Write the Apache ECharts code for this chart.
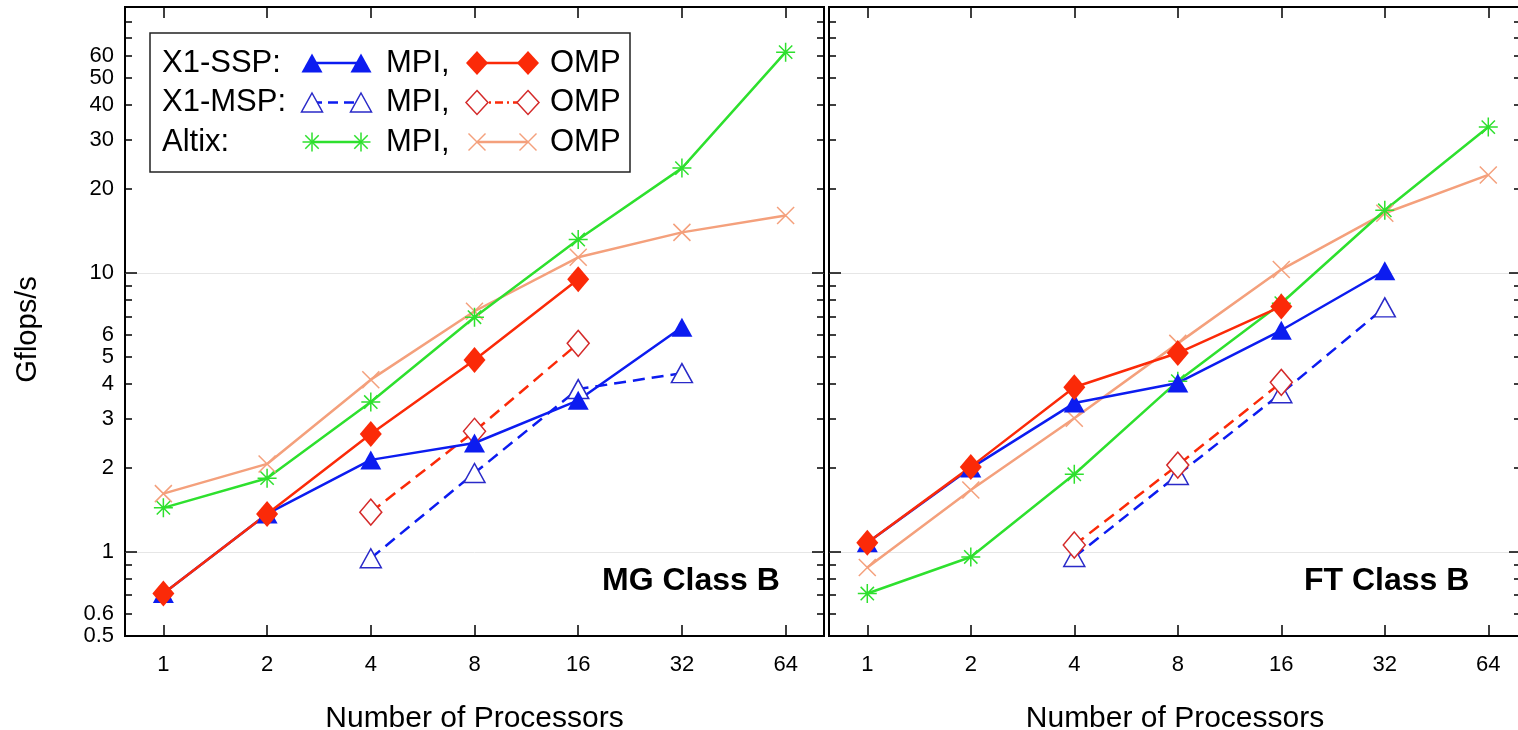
<!DOCTYPE html>
<html>
<head>
<meta charset="utf-8">
<script src="https://cdn.jsdelivr.net/npm/echarts@6/dist/echarts.min.js"></script>
<style>
html,body{margin:0;padding:0;background:#fff;}
#chart{width:1518px;height:730px;}
</style>
</head>
<body>
<div id="chart"></div>
<script>
// ---- data ----
const procs = ['1', '2', '4', '8', '16', '32', '64'];
const yLabelValues = [0.5, 0.6, 1, 2, 3, 4, 5, 6, 10, 20, 30, 40, 50, 60];
const yMinorTicks = [0.6, 0.7, 0.8, 0.9, 2, 3, 4, 5, 6, 7, 8, 9, 20, 30, 40, 50, 60, 70, 80];
const yMajorTicks = [1, 10];

// MG Class B
const mgSspMpi   = [0.71, 1.37, 2.14, 2.46, 3.5, 6.4, null];
const mgSspOmp   = [0.71, 1.37, 2.65, 4.88, 9.5, null, null];
const mgMspMpi   = [null, null, 0.95, 1.92, 3.84, 4.38, null];
const mgMspOmp   = [null, null, 1.39, 2.71, 5.6, null, null];
const mgAltixMpi = [1.44, 1.84, 3.45, 6.95, 13.2, 23.8, 62];
const mgAltixOmp = [1.62, 2.07, 4.15, 7.3, 11.4, 14.0, 16.1];

// FT Class B
const ftSspMpi   = [1.08, 2.0, 3.42, 4.04, 6.24, 10.2, null];
const ftSspOmp   = [1.08, 2.02, 3.9, 5.17, 7.6, null, null];
const ftMspMpi   = [null, null, 0.96, 1.89, 3.71, 7.54, null];
const ftMspOmp   = [null, null, 1.06, 2.05, 4.06, null, null];
const ftAltixMpi = [0.71, 0.96, 1.9, 4.1, 7.8, 16.8, 33.4];
const ftAltixOmp = [0.88, 1.67, 3.02, 5.6, 10.3, 16.4, 22.5];

const panelTitles = ['MG Class B', 'FT Class B'];
const xName = 'Number of Processors';
const yName = 'Gflops/s';

// ---- styles ----
const FONT = '"Liberation Sans", Arial, Helvetica, sans-serif';
const C_BLUE = '#0c1cf0';
const C_BLUE_E = '#2a2ac8';
const C_RED = '#fb2a08';
const C_RED_E = '#d42a2a';
const C_GREEN = '#2ee02e';
const C_SALMON = '#f4a07c';
const ASTER = 'path://M10 0 L10 20 M0 10 L20 10 M3 3 L17 17 M17 3 L3 17';
const CROSS = 'path://M0 0 L20 20 M20 0 L0 20';

function toData(vals) {
  const out = [];
  vals.forEach((v, i) => { if (v !== null) out.push([i, v]); });
  return out;
}

const styles = {
  sspMpi:   { color: C_BLUE, symbol: 'triangle', symbolSize: [21, 19], dash: 'solid', itemStyle: { color: C_BLUE } },
  sspOmp:   { color: C_RED, symbol: 'diamond', symbolSize: [22, 26], dash: 'solid', itemStyle: { color: C_RED } },
  mspMpi:   { color: C_BLUE, symbol: 'triangle', symbolSize: [21, 19], dash: [12, 7], itemStyle: { color: '#fff', borderColor: C_BLUE_E, borderWidth: 1.5 } },
  mspOmp:   { color: C_RED, symbol: 'diamond', symbolSize: [22, 26], dash: [12, 7], itemStyle: { color: '#fff', borderColor: C_RED_E, borderWidth: 1.5 } },
  altixMpi: { color: C_GREEN, symbol: ASTER, symbolSize: 19, dash: 'solid', itemStyle: { color: 'none', borderColor: C_GREEN, borderWidth: 1.5 } },
  altixOmp: { color: C_SALMON, symbol: CROSS, symbolSize: 17, dash: 'solid', itemStyle: { color: 'none', borderColor: C_SALMON, borderWidth: 1.5 } }
};

const panels = [
  { sspMpi: mgSspMpi, sspOmp: mgSspOmp, mspMpi: mgMspMpi, mspOmp: mgMspOmp, altixMpi: mgAltixMpi, altixOmp: mgAltixOmp },
  { sspMpi: ftSspMpi, sspOmp: ftSspOmp, mspMpi: ftMspMpi, mspOmp: ftMspOmp, altixMpi: ftAltixMpi, altixOmp: ftAltixOmp }
];
const order = ['altixOmp', 'altixMpi', 'mspMpi', 'mspOmp', 'sspMpi', 'sspOmp'];

const gridBoxes = [
  { left: 125, width: 699, xmin: -0.37, xmax: 6.37 },
  { left: 829, width: 692, xmin: -0.37, xmax: 6.316 }
];
const GT = 7, GH = 629;
const TICK_POS = [0, 1, 2, 3, 4, 5, 6];

const grids = [], xAxes = [], yAxes = [], series = [];
gridBoxes.forEach((g, p) => {
  grids.push({ left: g.left, top: GT, width: g.width, height: GH, show: true, borderColor: '#000', borderWidth: 2, backgroundColor: 'transparent', outerBoundsMode: 'none', containLabel: false });
  xAxes.push({
    type: 'value', gridIndex: p, position: 'bottom', min: g.xmin, max: g.xmax,
    name: xName, nameLocation: 'middle', nameGap: 68,
    nameTextStyle: { fontFamily: FONT, fontSize: 30, color: '#000' },
    axisLine: { show: false, onZero: false },
    axisTick: { show: true, inside: true, length: 11, customValues: TICK_POS, lineStyle: { color: '#000', width: 1.5 } },
    axisLabel: { show: true, margin: 18, customValues: TICK_POS, formatter: v => procs[Math.round(v)], fontFamily: FONT, fontSize: 22, color: '#000' },
    splitLine: { show: false }
  });
  xAxes.push({
    type: 'value', gridIndex: p, position: 'top', min: g.xmin, max: g.xmax,
    axisLine: { show: false, onZero: false },
    axisTick: { show: true, inside: true, length: 11, customValues: TICK_POS, lineStyle: { color: '#000', width: 1.5 } },
    axisLabel: { show: false },
    splitLine: { show: false }
  });
  const yBase = { type: 'log', logBase: 10, gridIndex: p, min: 0.5, max: 90, axisLine: { show: false, onZero: false } };
  yAxes.push(Object.assign({}, yBase, {
    position: 'left',
    name: p === 0 ? yName : '', nameLocation: 'middle', nameGap: 83, nameRotate: 90,
    nameTextStyle: { fontFamily: FONT, fontSize: 29, color: '#000', padding: [0, 16, 0, 0] },
    axisTick: { show: true, inside: true, length: 7, customValues: yMinorTicks, lineStyle: { color: '#000', width: 1.5 } },
    axisLabel: { show: p === 0, margin: 11, customValues: yLabelValues, formatter: v => String(Math.round(v * 10) / 10), fontFamily: FONT, fontSize: 22, color: '#000' },
    splitLine: { show: false }
  }));
  yAxes.push(Object.assign({}, yBase, {
    position: 'left',
    axisTick: { show: true, inside: true, length: 12, customValues: yMajorTicks, lineStyle: { color: '#000', width: 1.5 } },
    axisLabel: { show: false },
    splitLine: { show: true, lineStyle: { color: '#e6e6e6', width: 1 } }
  }));
  yAxes.push(Object.assign({}, yBase, {
    position: 'right',
    axisTick: { show: true, inside: true, length: 7, customValues: yMinorTicks, lineStyle: { color: '#000', width: 1.5 } },
    axisLabel: { show: false }, splitLine: { show: false }
  }));
  yAxes.push(Object.assign({}, yBase, {
    position: 'right',
    axisTick: { show: true, inside: true, length: 12, customValues: yMajorTicks, lineStyle: { color: '#000', width: 1.5 } },
    axisLabel: { show: false }, splitLine: { show: false }
  }));

  order.forEach(key => {
    const s = styles[key];
    series.push({
      type: 'line', name: key + p, xAxisIndex: p * 2, yAxisIndex: p * 4,
      data: toData(panels[p][key]),
      symbol: s.symbol, symbolSize: s.symbolSize, showAllSymbol: true,
      lineStyle: { color: s.color, width: 2.5, type: s.dash },
      itemStyle: s.itemStyle,
      emphasis: { disabled: true }, animation: false, z: 3
    });
  });
});

// ---- legend drawn as graphic ----
function seg(x1, y1, x2, y2, color) {
  return { type: 'line', z: 12, shape: { x1: x1, y1: y1, x2: x2, y2: y2 }, style: { stroke: color, lineWidth: 1.5 } };
}
function marker(kind, cx, cy) {
  if (kind === 'triFill' || kind === 'triEmpty') {
    const w = 10.5, h = 9.5;
    return [{ type: 'polygon', z: 12, shape: { points: [[cx, cy - h], [cx + w, cy + h], [cx - w, cy + h]] },
      style: kind === 'triFill' ? { fill: C_BLUE } : { fill: '#fff', stroke: C_BLUE_E, lineWidth: 1.5 } }];
  }
  if (kind === 'diaFill' || kind === 'diaEmpty') {
    const w = 11, h = 12;
    return [{ type: 'polygon', z: 12, shape: { points: [[cx, cy - h], [cx + w, cy], [cx, cy + h], [cx - w, cy]] },
      style: kind === 'diaFill' ? { fill: C_RED } : { fill: '#fff', stroke: C_RED_E, lineWidth: 1.5 } }];
  }
  if (kind === 'aster') {
    const r = 9.5, d = 6.7;
    return [seg(cx, cy - r, cx, cy + r, C_GREEN), seg(cx - r, cy, cx + r, cy, C_GREEN),
      seg(cx - d, cy - d, cx + d, cy + d, C_GREEN), seg(cx + d, cy - d, cx - d, cy + d, C_GREEN)];
  }
  const r = 8.5;
  return [seg(cx - r, cy - r, cx + r, cy + r, C_SALMON), seg(cx + r, cy - r, cx - r, cy + r, C_SALMON)];
}
const legendRows = [
  { label: 'X1-SSP:', a: ['triFill', C_BLUE, 'solid'], b: ['diaFill', C_RED, 'solid'] },
  { label: 'X1-MSP:', a: ['triEmpty', C_BLUE, [10, 6]], b: ['diaEmpty', C_RED, [8, 4, 2, 4]] },
  { label: 'Altix:', a: ['aster', C_GREEN, 'solid'], b: ['cross', C_SALMON, 'solid'] }
];
const legendEls = [{ type: 'rect', shape: { x: 150, y: 33, width: 480, height: 139 }, style: { fill: '#fff', stroke: '#222', lineWidth: 1.5 }, z: 10 }];
legendRows.forEach((r, i) => {
  const cy = 63 + i * 39.5;
  const txt = (t, x) => ({ type: 'text', x: x, y: cy, z: 11, style: { text: t, fontFamily: FONT, fontSize: 31, fill: '#000', verticalAlign: 'middle', align: 'left' } });
  legendEls.push(txt(r.label, 162));
  [[r.a, 312, 361], [r.b, 477, 528]].forEach(([m, x1, x2]) => {
    legendEls.push({ type: 'line', z: 11, shape: { x1: x1, y1: cy, x2: x2, y2: cy }, style: { stroke: m[1], lineWidth: 2.5, lineDash: m[2] === 'solid' ? null : m[2] } });
    marker(m[0], x1, cy).forEach(e => legendEls.push(e));
    marker(m[0], x2, cy).forEach(e => legendEls.push(e));
  });
  legendEls.push(txt('MPI,', 386));
  legendEls.push(txt('OMP', 550));
});

const option = {
  backgroundColor: '#fff',
  animation: false,
  title: [
    { text: panelTitles[0], left: 602, top: 565, textStyle: { fontFamily: FONT, fontSize: 32, fontWeight: 'bold', color: '#000' }, padding: 0 },
    { text: panelTitles[1], left: 1304, top: 565, textStyle: { fontFamily: FONT, fontSize: 32, fontWeight: 'bold', color: '#000' }, padding: 0 }
  ],
  grid: grids, xAxis: xAxes, yAxis: yAxes, series: series,
  graphic: legendEls
};
const chart = echarts.init(document.getElementById('chart'), null, { renderer: 'canvas' });
chart.setOption(option);
</script>
</body>
</html>
